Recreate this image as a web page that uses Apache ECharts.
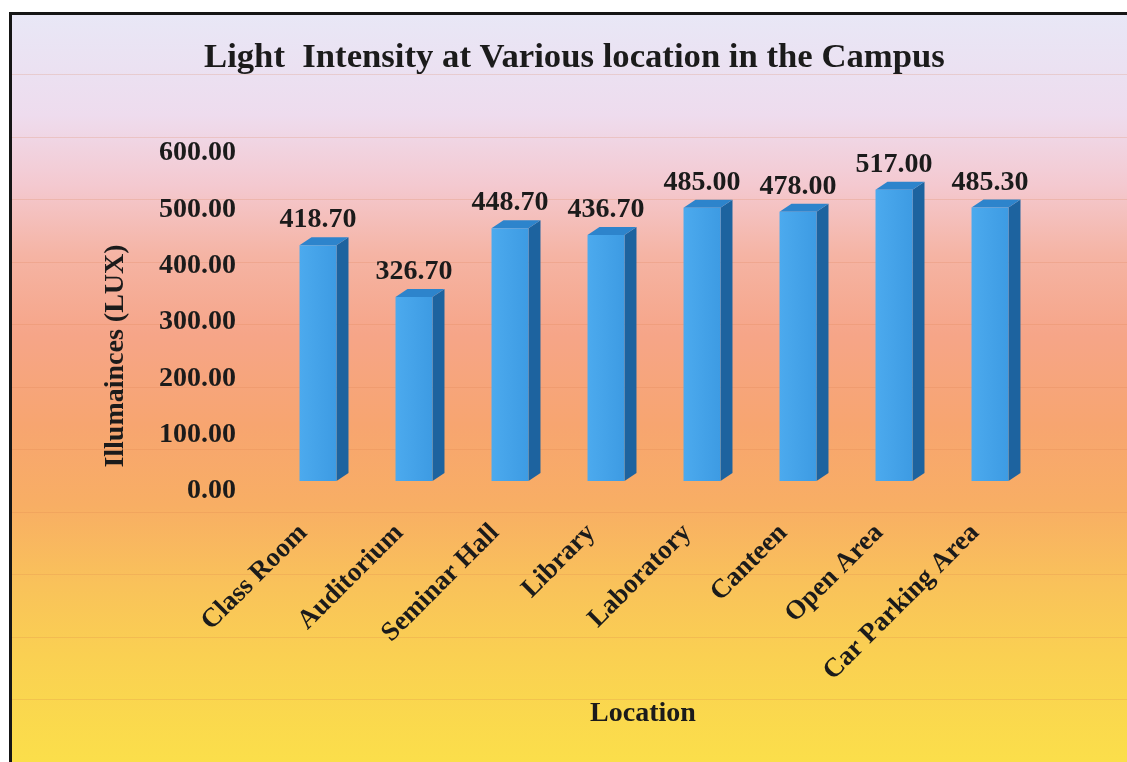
<!DOCTYPE html>
<html>
<head>
<meta charset="utf-8">
<title>Light Intensity at Various location in the Campus</title>
<script src="https://cdn.jsdelivr.net/npm/echarts@6/dist/echarts.min.js"></script>
<style>
  html, body { margin: 0; padding: 0; background: #fff; }
  .page { position: relative; width: 1127px; height: 762px; overflow: hidden; }
  .panel {
    position: absolute; left: 9px; top: 12px; width: 1200px; height: 800px;
    border: 3px solid #151515;
    background:
      repeating-linear-gradient(to bottom, transparent 0, transparent 61.5px, rgba(214, 120, 70, 0.2) 61.5px, rgba(214, 120, 70, 0.2) 62.5px),
      linear-gradient(to bottom, #e8e7f6 0px, #eedcee 100px, #f4c9d0 170px, #f5b4a4 240px, #f6a588 320px, #f7a570 410px, #f8ae64 490px, #f9c25a 570px, #fad052 640px, #fbdf4a 750px);
    background-position: 0 -2px, 0 0;
  }
  #chart { position: absolute; left: 0; top: 0; width: 1127px; height: 762px; }
</style>
</head>
<body>
<div class="page">
  <div class="panel"></div>
  <div id="chart"></div>
</div>
<script>
// chart data
const locations = ['Class Room', 'Auditorium', 'Seminar Hall', 'Library', 'Laboratory', 'Canteen', 'Open Area', 'Car Parking Area']
const illuminance = [418.70, 326.70, 448.70, 436.70, 485.00, 478.00, 517.00, 485.30]
const yTicks = [0, 100, 200, 300, 400, 500, 600]

const font = 'Liberation Serif, Times New Roman, serif'
const textColor = '#1b1b1b'

const chart = echarts.init(document.getElementById('chart'))

// simple 3D-looking column: front face, side face, top face + value label
function renderBar (params, api) {
  const idx = api.value(0)
  const val = api.value(1)
  const base = api.coord([idx, 0])
  const top = api.coord([idx, val])
  const bw = api.size([1, 0])[0] * 0.385
  const dx = 12
  const dy = 8
  const x0 = top[0] - bw / 2
  const x1 = top[0] + bw / 2
  return {
    type: 'group',
    children: [
      {
        type: 'polygon',
        shape: { points: [[x1, top[1]], [x1 + dx, top[1] - dy], [x1 + dx, base[1] - dy], [x1, base[1]]] },
        style: { fill: '#1d639f' }
      },
      {
        type: 'polygon',
        shape: { points: [[x0, top[1]], [x0 + dx, top[1] - dy], [x1 + dx, top[1] - dy], [x1, top[1]]] },
        style: { fill: '#2d84cc' }
      },
      {
        type: 'rect',
        shape: { x: x0, y: top[1], width: bw, height: base[1] - top[1] },
        style: {
          fill: new echarts.graphic.LinearGradient(0, 0, 1, 0, [
            { offset: 0, color: '#4caaee' },
            { offset: 1, color: '#3d9be3' }
          ])
        }
      },
      {
        type: 'text',
        x: top[0],
        y: top[1] - dy - 3,
        style: {
          text: val.toFixed(2),
          align: 'center',
          verticalAlign: 'bottom',
          font: 'bold 28px ' + font,
          fill: textColor
        }
      }
    ]
  }
}

const option = {
  backgroundColor: 'transparent',
  animation: false,
  title: {
    text: 'Light  Intensity at Various location in the Campus',
    left: 199,
    top: 36,
    textStyle: {
      fontFamily: font,
      fontWeight: 'bold',
      fontSize: 34.7,
      color: textColor
    }
  },
  grid: {
    left: 270,
    right: 89,
    top: 143,
    bottom: 281
  },
  xAxis: {
    type: 'category',
    data: locations,
    name: 'Location',
    nameLocation: 'middle',
    nameGap: 219,
    nameTextStyle: {
      fontFamily: font,
      fontWeight: 'bold',
      fontSize: 28,
      color: textColor,
      padding: [0, 22, 0, 0]
    },
    axisLine: { show: false },
    axisTick: { show: false },
    axisLabel: {
      interval: 0,
      rotate: 45,
      margin: 33,
      // trailing spacer nudges the rotated label along its own direction
      formatter: v => '{t|' + v + '}{s|}',
      rich: {
        t: {
          fontFamily: font,
          fontWeight: 'bold',
          fontSize: 27,
          color: textColor
        },
        s: { width: 21 }
      }
    }
  },
  yAxis: {
    type: 'value',
    min: yTicks[0],
    max: yTicks[yTicks.length - 1],
    interval: yTicks[1] - yTicks[0],
    name: 'Illumainces (LUX)',
    nameLocation: 'middle',
    nameGap: 140,
    nameTextStyle: {
      fontFamily: font,
      fontWeight: 'bold',
      fontSize: 28,
      color: textColor,
      padding: [0, 88, 0, 0]
    },
    axisLine: { show: false },
    axisTick: { show: false },
    splitLine: { show: false },
    axisLabel: {
      margin: 34,
      verticalAlign: 'top',
      lineHeight: 20,
      fontFamily: font,
      fontWeight: 'bold',
      fontSize: 28,
      color: textColor,
      formatter: v => v.toFixed(2)
    }
  },
  series: [
    {
      type: 'custom',
      renderItem: renderBar,
      encode: { x: 0, y: 1 },
      data: illuminance.map((v, i) => [i, v])
    }
  ]
}

chart.setOption(option)
</script>
</body>
</html>
